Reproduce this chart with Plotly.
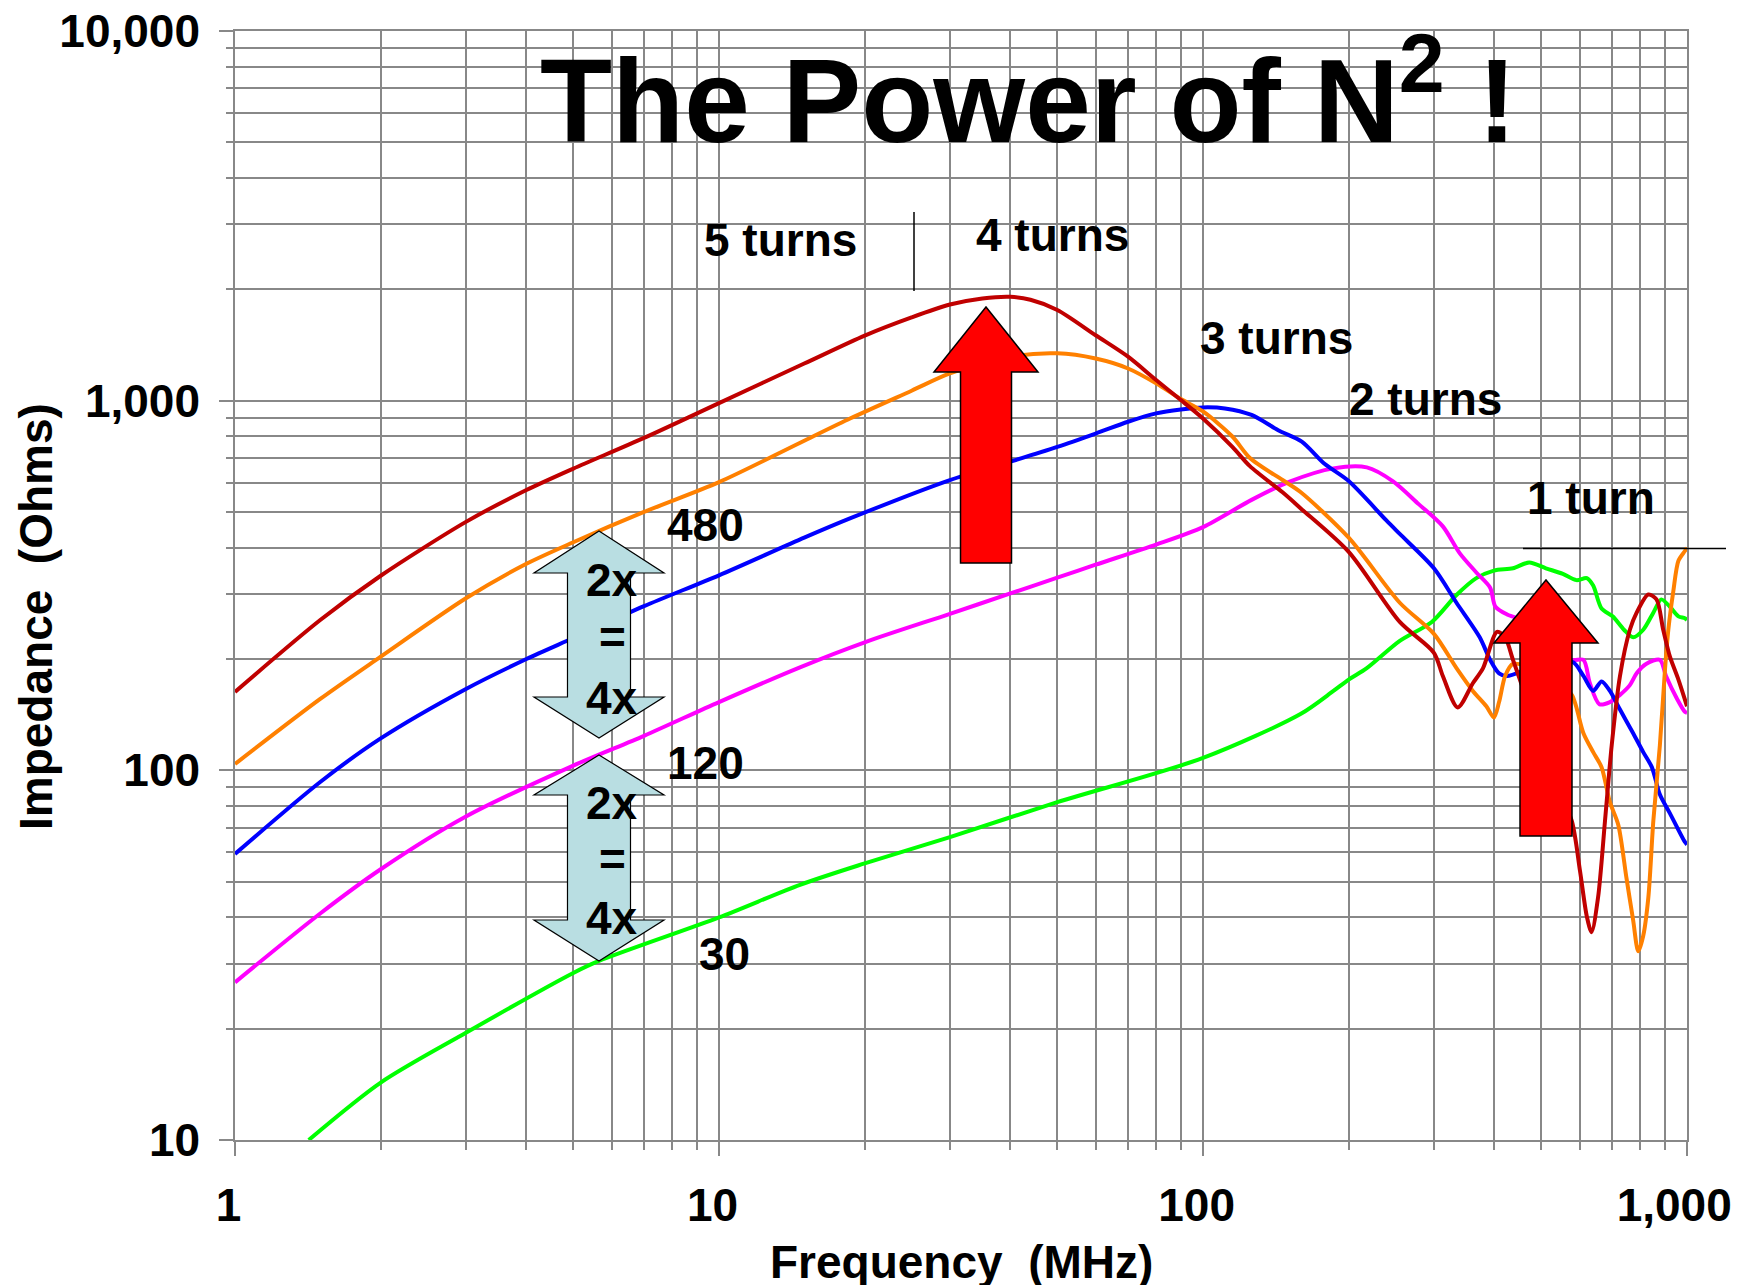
import plotly.graph_objects as go

# ---------------- data ----------------
freq_5turns = [1, 1.5, 2, 3, 4, 5, 7, 10, 15, 20, 25, 30, 35, 40, 44, 50, 60, 70, 80, 90, 100,
               115, 125, 146, 159, 200, 255, 300, 313, 336, 361, 379, 405, 421, 437, 480, 530, 578,
               601, 621, 635, 655, 677, 699, 727, 762, 787, 832, 865, 893, 922, 960, 1000]
imp_5turns = [163, 255, 336, 470, 573, 655, 793, 985, 1260, 1500, 1680, 1820, 1890, 1910, 1875,
              1760, 1503, 1315, 1137, 1004, 895, 750, 665, 565, 512, 390, 252, 208, 180, 148, 172,
              189, 237, 229, 199, 140, 95, 73, 53.5, 40.2, 36.5, 45.3, 73, 117, 180, 240, 267, 299,
              290, 240, 203, 176, 149]

freq_4turns = [1, 1.5, 2, 3, 4, 5, 7, 10, 15, 18.7, 25, 30, 40, 50, 60, 70, 80, 90, 100, 115, 125,
               146, 159, 200, 255, 300, 334, 361, 385, 399, 409, 421, 437, 500, 540, 578, 611, 640,
               666, 693, 721, 750, 774, 793, 812, 832, 852, 879, 901, 915, 937, 960, 990, 1000]
imp_4turns = [104, 156, 203, 292, 362, 414, 500, 602, 779, 896, 1064, 1185, 1315, 1343, 1300, 1222,
              1114, 1010, 935, 800, 700, 610, 566, 426, 284, 234, 189, 164, 149, 139, 153, 180, 194,
              185, 172, 160, 126, 112, 102, 82, 71.3, 51, 39.3, 32.4, 35.7, 45.3, 73, 117, 189, 240,
              305, 369, 392, 400]

freq_3turns = [1, 1.5, 2, 3, 4, 5, 7, 10, 15, 18.7, 30, 40, 50, 60, 70, 80, 90, 100, 111, 126, 143,
               160, 178, 200, 239, 255, 300, 334, 373, 392, 409, 425, 480, 540, 582, 611, 640, 666,
               693, 727, 774, 812, 846, 879, 922, 990, 1000]
imp_3turns = [59.4, 93, 122, 166, 200, 228, 278, 337, 426, 481, 610, 684, 750, 815, 877, 924, 947,
              959, 953, 915, 832, 775, 676, 606, 475, 436, 352, 284, 229, 199, 183, 180, 190, 195,
              196, 180, 164, 174, 164, 146, 126, 112, 102, 86, 76.5, 64, 63]

freq_2turns = [1, 1.5, 2, 3, 5, 7, 10, 14.7, 20, 30, 40, 50, 60, 80, 100, 126, 151, 186, 218, 247,
               279, 313, 339, 367, 392, 402, 425, 445, 500, 578, 611, 630, 659, 693, 727, 762, 787,
               823, 879, 905, 954, 990, 1000]
imp_2turns = [26.7, 41, 54, 75, 103, 124, 153, 190, 222, 265, 301, 332, 360, 408, 455, 539, 604,
              656, 660, 605, 525, 457, 387, 343, 312, 277, 264, 258, 230, 199, 199, 172, 151, 153,
              160, 170, 183, 194, 199, 180, 156, 144, 143]

freq_1turn = [1.42, 2, 3, 5, 5.65, 10, 14.7, 20, 30, 50, 100, 159, 186, 200, 218, 255, 297, 334,
              367, 399, 437, 472, 511, 554, 591, 621, 640, 666, 702, 741, 774, 812, 852, 885, 922,
              960, 990, 1000]
imp_1turn = [10, 14.3, 19.5, 28.3, 30.5, 40, 49, 56, 66, 82, 108, 142, 164, 176, 189, 224, 252,
             298, 331, 347, 352, 365, 352, 340, 327, 331, 316, 274, 261, 240, 229, 240, 267, 290,
             277, 261, 258, 255]

x_tickvals = [1, 10, 100, 1000]
x_ticktext = ["1", "10", "100", "1,000"]
y_tickvals = [10, 100, 1000, 10000]
y_ticktext = ["10", "100", "1,000", "10,000"]

series_names = ["1 turn", "2 turns", "3 turns", "4 turns", "5 turns"]
series_colors = ["#00FF00", "#FF00FF", "#0000FF", "#FF8000", "#C00000"]
series_freqs = [freq_1turn, freq_2turns, freq_3turns, freq_4turns, freq_5turns]
series_imps = [imp_1turn, imp_2turns, imp_3turns, imp_4turns, imp_5turns]

turn_labels = ["5 turns", "4 turns", "3 turns", "2 turns", "1 turn"]
value_labels = ["480", "120", "30"]

# ---------------- figure ----------------
# the page body adds an 8 px offset, so the figure is 16 px smaller
OFF = 8
W, H = 1740 - OFF, 1285 - OFF
PL, PT, PR, PB = 235, 31, 1687, 1140          # plot area in screen pixels
ML, MT = PL - OFF, PT - OFF
MR, MB = W - (PR - OFF), H - (PB - OFF)
PW, PH = PR - PL, PB - PT

def px(x):
    return (x - PL) / PW

def py(y):
    return (PB - y) / PH

FONT = "Liberation Sans, Arial, Helvetica, sans-serif"
GRID = "#888888"
NB = "\u00a0"

fig = go.Figure()
for name, f, z, c in zip(series_names, series_freqs, series_imps, series_colors):
    fig.add_trace(go.Scatter(x=f, y=z, mode="lines", name=name,
                             line=dict(color=c, width=4, shape="spline", smoothing=0.8),
                             showlegend=False, hoverinfo="x+y+name"))

minor_x = [m * 10 ** e for e in range(0, 3) for m in range(2, 10)]
minor_y = [m * 10 ** e for e in range(1, 4) for m in range(2, 10)]

axis_common = dict(
    type="log", showgrid=True, gridcolor=GRID, gridwidth=1.5,
    ticks="outside", ticklen=14, tickwidth=1.5, tickcolor=GRID,
    showline=True, linecolor=GRID, linewidth=1.5, mirror=True, zeroline=False,
    tickfont=dict(family=FONT, size=46, color="black", weight="bold"),
    tickmode="array", ticklabeloverflow="allow",
)

# labels sit slightly left of their gridline in the reference (trailing no-break spaces)
x_label_pad = [1, 1, 1, 2]
fig.update_xaxes(
    **axis_common, range=[0, 3], tickvals=x_tickvals,
    ticktext=[t + NB * n for t, n in zip(x_ticktext, x_label_pad)],
    minor=dict(tickmode="array", tickvals=minor_x, showgrid=True, gridcolor=GRID,
               gridwidth=1.5, ticks="outside", ticklen=8, tickcolor=GRID, tickwidth=1.5),
    ticklabelstandoff=10,
)
fig.update_yaxes(
    **axis_common, range=[1, 4], tickvals=y_tickvals, ticktext=y_ticktext,
    minor=dict(tickmode="array", tickvals=minor_y, showgrid=True, gridcolor=GRID,
               gridwidth=1.5, ticks="outside", ticklen=7, tickcolor=GRID, tickwidth=1.5),
    ticklabelstandoff=10,
)

shapes = []

def rect(x0, y0, x1, y1, fill="white", opacity=1.0, layer="between"):
    shapes.append(dict(type="rect", xref="paper", yref="paper",
                       x0=px(x0), x1=px(x1), y0=py(y1), y1=py(y0),
                       fillcolor=fill, opacity=opacity, line=dict(width=0), layer=layer))

def seg(x0, y0, x1, y1, color="black", width=1.5):
    shapes.append(dict(type="line", xref="paper", yref="paper",
                       x0=px(x0), x1=px(x1), y0=py(y0), y1=py(y1),
                       line=dict(color=color, width=width), layer="above"))

def poly(points, fill, line_color="black", width=1.5):
    d = "M " + " L ".join(f"{px(x):.5f},{py(y):.5f}" for x, y in points) + " Z"
    shapes.append(dict(type="path", xref="paper", yref="paper", path=d,
                       fillcolor=fill, line=dict(color=line_color, width=width), layer="above"))

# title box (semi transparent) and label boxes
rect(503, 0, 1560, 153, opacity=0.7)
rect(699, 210, 913, 292)
rect(914, 207, 1200, 289)
rect(1190, 308, 1360, 387)
rect(1344, 368, 1568, 448)
rect(1523, 469, 1726, 548)
seg(914, 212, 914, 291, width=1.5)
seg(1523, 548.5, 1726, 548.5, width=1.5)

# red up arrows
def up_arrow(cx, tip, head_base, bottom, head_half, shaft_half):
    return [(cx - shaft_half, bottom), (cx - shaft_half, head_base), (cx - head_half, head_base),
            (cx, tip), (cx + head_half, head_base), (cx + shaft_half, head_base),
            (cx + shaft_half, bottom)]

poly(up_arrow(986, 307, 372, 563, 52, 25.5), "#FF0000")
poly(up_arrow(1546, 580, 643, 836, 52, 26), "#FF0000")

# light blue double arrows
def double_arrow(cx, top, hb_top, hb_bot, bottom, head_half, shaft_half):
    return [(cx, top), (cx + head_half, hb_top), (cx + shaft_half, hb_top),
            (cx + shaft_half, hb_bot), (cx + head_half, hb_bot), (cx, bottom),
            (cx - head_half, hb_bot), (cx - shaft_half, hb_bot), (cx - shaft_half, hb_top),
            (cx - head_half, hb_top)]

poly(double_arrow(599, 531, 573, 697, 738, 65, 31.5), "#B9DEE2", width=1.2)
poly(double_arrow(599, 755, 795, 920, 961, 65, 31.5), "#B9DEE2", width=1.2)

fig.update_layout(shapes=shapes)

annotations = []

def text(t, x, y, size=46, angle=0):
    annotations.append(dict(text=t, x=px(x), y=py(y), xref="paper", yref="paper",
                            showarrow=False, xanchor="center", yanchor="middle",
                            textangle=angle,
                            font=dict(family=FONT, size=size, color="black", weight="bold")))

text("The Power of N<sup>2</sup> !", 1028, 92, size=118)
for t, (x, y) in zip(turn_labels, [(780, 240), (1052, 235), (1276, 338), (1425, 399), (1591, 498)]):
    text(t, x, y)
for t, (x, y) in zip(value_labels, [(705, 525), (705, 763), (724, 954)]):
    text(t, x, y)
for y2, ye, y4 in [(580, 637, 698), (803, 859, 918)]:
    text("2x", 612, y2)
    text("=", 612, ye)
    text("4x", 612, y4)

# axis titles
text("Frequency" + NB + " (MHz)", 961, 1262)
text("Impedance" + NB + " (Ohms)", 36, 617, angle=-90)

fig.update_layout(
    annotations=annotations,
    width=W, height=H,
    margin=dict(l=ML, r=MR, t=MT, b=MB, autoexpand=False),
    paper_bgcolor="white", plot_bgcolor="white",
    showlegend=False,
    font=dict(family=FONT, color="black"),
)

fig.write_html(
    "out.html",
    post_script="document.documentElement.style.overflow='hidden';"
                "document.body.style.overflow='hidden';",
)
